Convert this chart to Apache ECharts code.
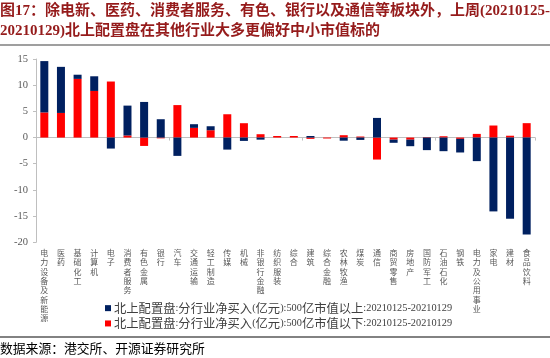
<!DOCTYPE html>
<html>
<head>
<meta charset="utf-8">
<script src="https://cdn.jsdelivr.net/npm/echarts@6/dist/echarts.min.js"></script>
<style>
html,body{margin:0;padding:0;background:#fff;}
#c{width:550px;height:358px;}
</style>
</head>
<body>
<div id="c"></div>
<script>
var categories = ["电力设备及新能源","医药","基础化工","计算机","电子","消费者服务","有色金属","银行","汽车","交通运输","轻工制造","传媒","机械","非银行金融","纺织服装","综合","建筑","综合金融","农林牧渔","煤炭","通信","商贸零售","房地产","国防军工","石油石化","钢铁","电力及公用事业","家电","建材","食品饮料"];
var bigCapValues = [9.8, 8.8, 0.8, 2.8, -2.1, 5.7, 6.8, 3.5, -3.5, 0.7, 0.76, -2.3, -0.64, -0.4, 0, 0, 0.3, 0, -0.6, -0.45, 3.75, -0.6, -1.25, -2.4, -2.6, -2.6, -4.5, -14.1, -15.5, -18.5];
var smallCapValues = [4.8, 4.7, 11.2, 8.9, 10.7, 0.4, -1.6, -0.15, 6.2, 1.85, 1.4, 4.45, 2.74, 0.64, 0.3, 0.3, -0.25, -0.18, 0.45, 0.2, -4.2, -0.4, -0.4, 0.1, 0.25, -0.25, 0.7, 2.3, 0.35, 2.75];
var bigCapName = "北上配置盘:分行业净买入(亿元):500亿市值以上:20210125-20210129";
var smallCapName = "北上配置盘:分行业净买入(亿元):500亿市值以下:20210125-20210129";
var yTicks = {min: -20, max: 15, interval: 5};
var titleText = "图17：除电新、医药、消费者服务、有色、银行以及通信等板块外，上周(20210125-\n20210129)北上配置盘在其他行业大多更偏好中小市值标的";
var sourceText = "数据来源：港交所、开源证券研究所";

var serif = '"Liberation Serif","Times New Roman","Noto Sans CJK SC",serif';

function richWrap(s) {
  var out = '', cur = '', curType = null;
  for (var i = 0; i < s.length; i++) {
    var ch = s[i];
    var t = /[\u4e00-\u9fff]/.test(ch) ? 'c' : 'l';
    if (t !== curType && cur) { out += '{' + curType + '|' + cur + '}'; cur = ''; }
    curType = t; cur += ch;
  }
  if (cur) out += '{' + curType + '|' + cur + '}';
  return out;
}

var chart = echarts.init(document.getElementById('c'), null, {renderer: 'canvas'});
chart.setOption({
  animation: false,
  backgroundColor: '#fff',
  title: {
    text: titleText,
    left: 0, top: 1, padding: 0,
    textStyle: {fontSize: 15, fontWeight: 'bold', color: '#951B1B', lineHeight: 20, fontFamily: serif}
  },
  grid: {left: 36, right: 15, top: 59, bottom: 115.7, containLabel: false},
  legend: {
    orient: 'vertical', left: 100, top: 297,
    data: [bigCapName, smallCapName],
    itemWidth: 6, itemHeight: 6, itemGap: 3,
    icon: 'rect',
    formatter: function (n) { return richWrap(n); },
    textStyle: {
      color: '#404040', fontFamily: serif, padding: [0,0,0,-2],
      rich: {
        c: {fontSize: 12.3, color: '#404040', fontFamily: '"Noto Sans CJK SC",sans-serif', lineHeight: 12},
        l: {fontSize: 10.3, color: '#404040', fontFamily: serif, lineHeight: 12}
      }
    }
  },
  xAxis: [{
    type: 'category', data: categories, position: 'bottom',
    axisLine: {onZero: true, lineStyle: {color: '#BFBFBF', width: 1}},
    axisTick: {show: true, length: 3, lineStyle: {color: '#BFBFBF'}},
    axisLabel: {show: false}
  }, {
    type: 'category', data: categories, position: 'bottom',
    axisLine: {show: false, onZero: false},
    axisTick: {show: false},
    axisLabel: {
      interval: 0, margin: 7, fontSize: 8, lineHeight: 9.3, color: '#595959',
      fontFamily: serif, verticalAlign: 'top',
      formatter: function (v) { return v.split('').join('\n'); }
    }
  }],
  yAxis: {
    type: 'value', min: yTicks.min, max: yTicks.max, interval: yTicks.interval,
    axisLine: {show: true, lineStyle: {color: '#BFBFBF'}},
    axisTick: {show: true, length: 3, lineStyle: {color: '#BFBFBF'}},
    splitLine: {show: false},
    axisLabel: {fontSize: 10.5, color: '#595959', fontFamily: serif, margin: 8}
  },
  series: [{
    name: smallCapName, type: 'bar', stack: 's', xAxisIndex: 0,
    data: smallCapValues, barWidth: 8, itemStyle: {color: '#FF0000'}
  }, {
    name: bigCapName, type: 'bar', stack: 's', xAxisIndex: 0,
    data: bigCapValues, barWidth: 8, itemStyle: {color: '#002060'}
  }],
  graphic: [
    {type: 'line', shape: {x1: 0, y1: 45, x2: 550, y2: 45}, style: {stroke: '#7F7F7F', lineWidth: 1.5}},
    {type: 'line', shape: {x1: 0, y1: 337, x2: 550, y2: 337}, style: {stroke: '#595959', lineWidth: 1.5}},
    {type: 'text', left: 0, top: 343, style: {text: sourceText, fontSize: 12.8, fill: '#000', fontFamily: serif}}
  ]
});
</script>
</body>
</html>
